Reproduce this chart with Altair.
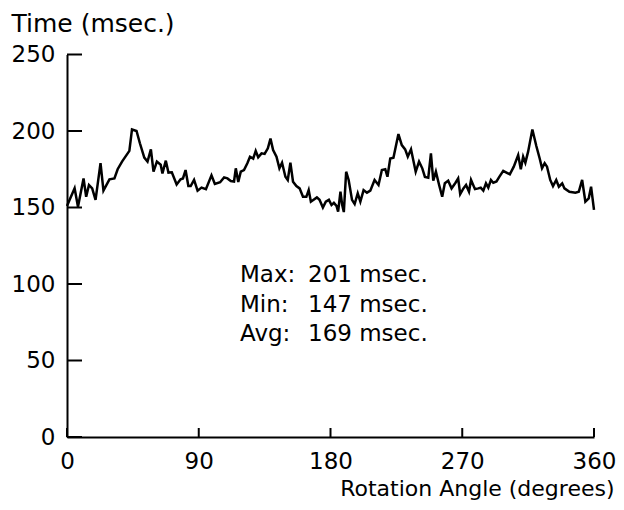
import altair as alt
import pandas as pd

# --- data ---
angles = [0, 1.8, 5.2, 7.5, 11.3, 13.1, 15, 17.2, 19.5, 22.9, 24.9, 29, 32.4, 34.6, 37.6, 42.6, 44.4,
          47.5, 49.8, 52.8, 55, 57.3, 59.1, 61.4, 64, 65.2, 67.5, 69.3, 71.6, 74.9, 77.6, 79.2, 81,
          82.9, 84.5, 86.8, 89.2, 91.9, 94.9, 98.7, 101, 104.6, 107.3, 109.6, 111.9, 114.1, 115.3,
          117, 118.7, 120.9, 123.2, 125, 127.2, 128.9, 130.6, 132.9, 135, 137.2, 139, 140.8, 143.1,
          145.1, 146.9, 149.2, 150.8, 152.6, 154.4, 156.7, 158.9, 161.2, 163.5, 165.1, 166.6, 170.7,
          172.5, 174.8, 176.8, 178.9, 180.7, 182.3, 184.1, 185.2, 186.8, 188, 189.1, 190.7, 192.4,
          194.7, 196.5, 198.6, 200.4, 202.6, 204.9, 207.2, 210.1, 212.8, 215.1, 217.4, 218.9, 220.8,
          223, 226.4, 228.7, 231, 232.8, 235, 238.2, 240.5, 242.7, 244.5, 246.8, 248.6, 250.2, 252,
          254.2, 256.3, 258.1, 260.4, 262.7, 265.4, 267.2, 268.6, 270.8, 272.6, 274.6, 276, 278.7,
          281, 282.6, 284.4, 286.2, 287.8, 289.6, 291.2, 293.4, 295.3, 298, 300.2, 302.5, 305.2,
          308.2, 310, 311.6, 313.1, 315, 317.9, 320.6, 322.9, 324.5, 326.3, 327.9, 330.1, 332, 334.2,
          336, 338.3, 339.8, 343.2, 347.3, 349.6, 351.9, 354.1, 356.4, 358, 360]
times = [151, 155, 162.5, 150.5, 169, 157, 164.7, 162.5, 155, 179, 161, 168.4, 169, 175, 180, 187, 201,
         200, 192, 182.6, 180, 188, 173.4, 180, 178, 172.3, 180.6, 172.8, 173, 165, 168.4, 169, 174.5,
         164, 164, 168, 161, 163, 162, 171, 165.4, 166.5, 169.7, 169, 167.3, 167, 175.6,
         166.7, 173.4, 174.5, 178.9, 183.2, 182, 187, 182.8, 185.4, 185, 188.7, 195, 187.6, 183.2,
         175.6, 179.3, 170.1, 168, 179.3, 166.9, 164, 162.5, 157, 157, 161.4, 153.8, 156.6,
         155, 150, 153.8, 155, 151.6, 153, 151, 147.3, 160.3, 151.6, 147, 173.4, 168,
         155, 152.3, 159.3, 153.8, 161.4, 159.7, 161, 168, 164.7, 174.5, 175, 170.1, 182,
         182.5, 198, 190.8, 188, 183.2, 188, 173.4, 180, 175.6, 170, 169.5, 185.4, 167.5, 173.4,
         164.7, 157, 165.8, 167.5, 162.5, 166.2, 169, 158.8, 162.5, 164.7, 160.3, 168, 162,
         162.5, 163, 161, 165.8, 163, 168, 166.2, 167, 170, 173.9, 172.8, 171.7, 176.7,
         184.3, 175, 183.2, 179.3, 186.5, 201, 190.2, 182, 175.6, 178.9, 176.7, 168, 164, 168,
         163.6, 165.8, 162.5, 160.3, 159.7, 160.3, 168, 153.8, 156, 163.6, 148.4]

x_ticks = [0, 90, 180, 270, 360]
y_ticks = [0, 50, 100, 150, 200, 250]
stat_labels = ["Max:", "Min:", "Avg:"]
stat_values = ["201 msec.", "147 msec.", "169 msec."]

W, H = 527, 382.5
PAD_L = 59
FONT = "DejaVu Sans"

df = pd.DataFrame({"angle": angles, "time": times})
xscale = alt.Scale(domain=[0, 360], nice=False, zero=False)
yscale = alt.Scale(domain=[0, 250], nice=False)

x_axis = alt.Axis(values=x_ticks, tickSize=0, ticks=False, grid=False, domain=True,
                  domainColor="black", domainWidth=2, labelFont=FONT, labelFontSize=23,
                  labelColor="black", labelPadding=13, labelFlush=False, labelOverlap=False,
                  title="Rotation Angle (degrees)", titleFont=FONT, titleFontSize=22,
                  titleFontWeight="normal", titleColor="black", titleAlign="right",
                  titleBaseline="alphabetic", titleX=547, titleY=58)
y_axis = alt.Axis(values=y_ticks, tickSize=0, ticks=False, grid=False, domain=True,
                  domainColor="black", domainWidth=2, labelFont=FONT, labelFontSize=23,
                  labelColor="black", labelPadding=12, labelFlush=False, labelOverlap=False,
                  title="Time (msec.)", titleFont=FONT, titleFontSize=25,
                  titleFontWeight="normal", titleColor="black", titleAngle=0,
                  titleAlign="left", titleBaseline="alphabetic", titleX=-56, titleY=-23)

line = alt.Chart(df).mark_line(color="black", strokeWidth=2.5).encode(
    x=alt.X("angle:Q", scale=xscale, axis=x_axis),
    y=alt.Y("time:Q", scale=yscale, axis=y_axis),
)

xt = alt.Chart(pd.DataFrame({"angle": x_ticks})).mark_rule(color="black", strokeWidth=2).encode(
    x=alt.X("angle:Q", scale=xscale, axis=x_axis),
    y=alt.value(H), y2=alt.value(H - 9),
)
yt = alt.Chart(pd.DataFrame({"time": y_ticks})).mark_rule(color="black", strokeWidth=2).encode(
    y=alt.Y("time:Q", scale=yscale, axis=y_axis),
    x=alt.value(0), x2=alt.value(15),
)

txt_df = pd.DataFrame({"lab": ["\n".join(stat_labels)], "val": ["\n".join(stat_values)]})
lab = alt.Chart(txt_df).mark_text(font=FONT, fontSize=23, color="black", align="left",
                                  baseline="alphabetic", lineBreak="\n", lineHeight=29.5).encode(
    text="lab:N", x=alt.value(173), y=alt.value(227.5))
val = alt.Chart(txt_df).mark_text(font=FONT, fontSize=23, color="black", align="left",
                                  baseline="alphabetic", lineBreak="\n", lineHeight=29.5).encode(
    text="val:N", x=alt.value(241), y=alt.value(227.5))

chart = alt.layer(line, xt, yt, lab, val).properties(
    width=W, height=H,
    autosize=alt.AutoSizeParams(type="none"),
    padding={"left": PAD_L, "top": 46.5, "right": 608 - PAD_L - W, "bottom": 64},
    background="white",
).configure_view(stroke=None)

chart.save("out.html", embed_options={"renderer": "svg", "actions": False})
